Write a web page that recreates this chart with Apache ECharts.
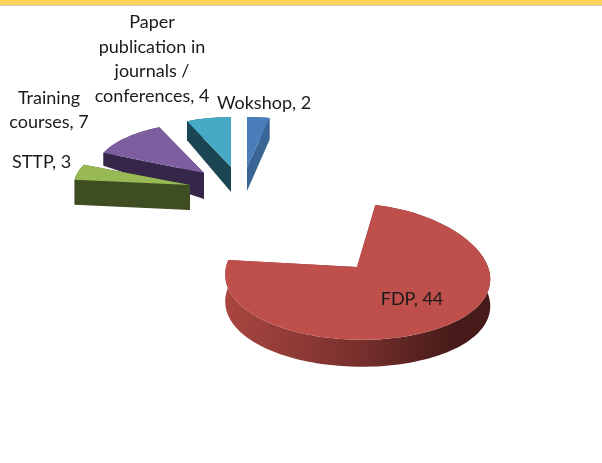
<!DOCTYPE html>
<html>
<head>
    <meta charset="utf-8">
    <style>
        html, body { margin: 0; padding: 0; background: #fff; }
        /* the reference is a soft, upscaled picture */
        #main { width: 602px; height: 463px; filter: blur(0.5px); }
    </style>
    <script src="https://cdn.jsdelivr.net/npm/echarts@6/dist/echarts.min.js"></script>
</head>
<body>
<div id="main"></div>

<script>
  var categories = ['Wokshop', 'FDP', 'STTP', 'Training\ncourses', 'Paper\npublication in\njournals /\nconferences'];
  var values = [2, 44, 3, 7, 4];

  var topColors = ['#4a7ebb', '#be4f4b', '#98b954', '#7d5fa0', '#46aac5'];
  var faceColors = ['#3a6696', '#8e3a37', '#3f4d22', '#35264a', '#1c4553'];

  // each exploded slice sits on its own ellipse, k* fake the perspective
  var layout = [
    { cx: 247, cy: 167, rx: 108, ry: 50, apex: 24, rim: 22, kx: 0, ky: 0, skew: 0, order: 1, lx: 264, ly: 103 },
    { cx: 357, cy: 267, rx: 131, ry: 68, apex: 28, rim: 27, kx: 0.15, ky: 0.07, skew: -5, order: 5, lx: 412, ly: 299 },
    { cx: 190, cy: 185, rx: 116, ry: 50, apex: 25, rim: 25, kx: 0, ky: 0, skew: 0, order: 4, lx: 41.5, ly: 162 },
    { cx: 204, cy: 173, rx: 110, ry: 50, apex: 26, rim: 13, kx: 0, ky: 0, skew: 0, order: 3, lx: 49, ly: 110 },
    { cx: 231, cy: 167, rx: 108, ry: 50, apex: 25, rim: 19, kx: 0, ky: 0, skew: 0, order: 2, lx: 152, ly: 59 }
  ];

  var total = values.reduce(function (a, b) { return a + b; }, 0);

  function project(l, angle, r) {
    var u = Math.sin(angle) * r;
    var v = Math.cos(angle) * r;
    return [
      l.cx + u * l.rx * (1 - l.kx * v) + v * l.skew,
      l.cy - v * l.ry * (1 - l.ky * v)
    ];
  }

  function renderSlice(params, api) {
    var i = params.dataIndex;
    var l = layout[i];
    var start = 0;
    for (var n = 0; n < i; n++) start += values[n];
    var a0 = start / total * Math.PI * 2;
    var a1 = (start + api.value(0)) / total * Math.PI * 2;

    var arc = [];
    var steps = Math.max(8, Math.round((a1 - a0) * 30));
    for (var s = 0; s <= steps; s++) {
      arc.push(project(l, a0 + (a1 - a0) * s / steps, 1));
    }
    var apex = [l.cx, l.cy];
    var apexLow = [l.cx, l.cy + l.apex];
    var arcLow = arc.map(function (p) { return [p[0], p[1] + l.rim]; });

    var arcFill = faceColors[i];
    if (i === 1) {
      arcFill = new echarts.graphic.LinearGradient(227, 0, 490, 0, [
        { offset: 0, color: '#a8453f' },
        { offset: 0.5, color: '#78302d' },
        { offset: 0.85, color: '#471b19' },
        { offset: 1, color: '#451a18' }
      ], true);
    }

    var z = l.order * 10;
    return {
      type: 'group',
      children: [
        // side walls first, the top face covers whatever faces away
        { type: 'polygon', z2: z, shape: { points: [apex, arc[0], arcLow[0], apexLow] }, style: { fill: faceColors[i] } },
        { type: 'polygon', z2: z, shape: { points: [apex, arc[steps], arcLow[steps], apexLow] }, style: { fill: faceColors[i] } },
        { type: 'polygon', z2: z + 1, shape: { points: arc.concat(arcLow.slice().reverse()) }, style: { fill: arcFill } },
        { type: 'polygon', z2: z + 2, shape: { points: [apex].concat(arc) }, style: { fill: topColors[i] } },
        {
          type: 'text', z2: 100,
          style: {
            x: l.lx, y: l.ly,
            text: categories[i] + ', ' + api.value(0),
            fill: '#1a1a1a',
            font: '18px Lato',
            lineHeight: 24.5,
            align: 'center',
            verticalAlign: 'middle'
          }
        }
      ]
    };
  }

  var myChart = echarts.init(document.getElementById('main'));
  myChart.setOption({
    animation: false,
    backgroundColor: '#fff',
    graphic: [
      { type: 'rect', shape: { x: 0, y: 5, width: 602, height: 1 }, style: { fill: '#cfcabb' } },
      { type: 'rect', shape: { x: 0, y: 0, width: 602, height: 5 }, style: { fill: '#fdd45a' } }
    ],
    series: [{
      type: 'custom',
      coordinateSystem: 'none',
      silent: true,
      data: values,
      renderItem: renderSlice
    }]
  });
</script>

</body>
</html>
